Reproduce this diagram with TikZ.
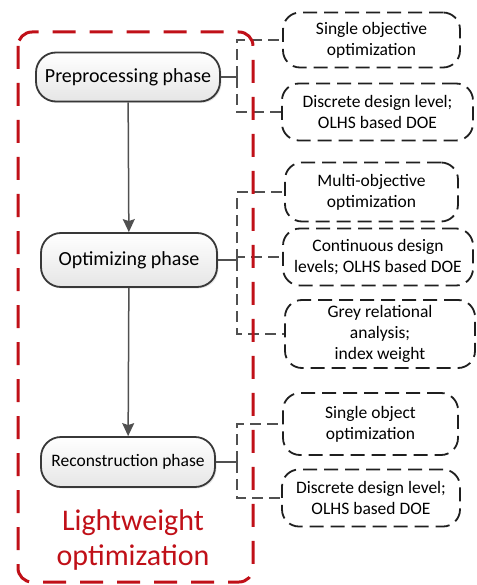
\documentclass[tikz,border=0pt]{standalone}
\usepackage{fontspec}
\setmainfont{Carlito}
\usepackage{tikz}
\usetikzlibrary{arrows.meta,shadows}

\definecolor{phasered}{RGB}{192,16,24}
\definecolor{linegray}{RGB}{80,80,80}

\tikzset{
    phase/.style={draw=black!78, line width=1.8pt, rounded corners=20pt,
        top color=white, bottom color=black!10, align=center, inner sep=0pt,
        drop shadow={shadow xshift=1.5pt, shadow yshift=-1.5pt, opacity=0.2},
        font=\fontsize{20}{24}\selectfont},
    task/.style={draw=black!88, line width=1.8pt, dash pattern=on 14pt off 7pt,
        rounded corners=17pt, align=center, inner sep=0pt,
        font=\fontsize{17.5}{21}\selectfont},
    flow/.style={draw=linegray, line width=1.5pt, -{Stealth[length=13pt,width=12pt,inset=2pt]}},
    link/.style={draw=linegray, line width=1.5pt, dash pattern=on 11pt off 6pt},
    stub/.style={draw=linegray, line width=1.5pt}
}

\begin{document}
\begin{tikzpicture}[x=1pt,y=-1pt]

    \useasboundingbox (0,0) rectangle (476,585);

    % Phases
    \node[phase, minimum width=184pt, minimum height=49pt] (pre) at (128,77) {Preprocessing phase};
    \node[phase, minimum width=176pt, minimum height=54pt] (opt) at (129,260) {Optimizing phase};
    \node[phase, minimum width=174pt, minimum height=50pt, font=\fontsize{17.5}{21}\selectfont] (rec) at (128,462) {Reconstruction phase};

    \draw[flow] (pre) -- (opt);
    \draw[flow] (opt) -- (rec);

    % Tasks of each phase
    \node[task, minimum width=177pt, minimum height=55pt] (sobj) at (371.5,40) {Single objective\\optimization};
    \node[task, minimum width=191pt, minimum height=57pt] (ddl) at (377.5,112) {Discrete design level;\\OLHS based DOE};

    \node[task, minimum width=173pt, minimum height=59pt] (mobj) at (371.5,192) {Multi-objective\\optimization};
    \node[task, minimum width=190pt, minimum height=57pt] (cdl) at (378,257) {Continuous design\\levels; OLHS based DOE};
    \node[task, minimum width=190pt, minimum height=68pt] (gra) at (380,334) {Grey relational\\analysis;\\index weight};

    \node[task, minimum width=175pt, minimum height=62pt] (sob) at (370.5,424) {Single object\\optimization};
    \node[task, minimum width=178pt, minimum height=57pt] (ddl2) at (371,498) {Discrete design level;\\OLHS based DOE};

    % Brackets
    \draw[stub] (pre.east) -- (237,77) coordinate (preJ);
    \draw[link] (preJ) |- (sobj.west);
    \draw[link] (preJ) |- (ddl.west);

    \draw[stub] (opt.east) -- (237,260) coordinate (optJ);
    \draw[link] (optJ) |- (mobj.west);
    \draw[link] (optJ) |- (cdl.west);
    \draw[link] (optJ) |- (gra.west);

    \draw[stub] (rec.east) -- (237,462) coordinate (recJ);
    \draw[link] (recJ) |- (sob.west);
    \draw[link] (recJ) |- (ddl2.west);

    % Outer frame
    \draw[phasered, line width=3pt, dash pattern=on 23pt off 14pt, rounded corners=14pt]
        (18,32) rectangle (253,582);
    \node[text=phasered, align=center, font=\fontsize{30}{35}\selectfont] (lwo) at (133,540)
        {Lightweight\\optimization};

\end{tikzpicture}
\end{document}
